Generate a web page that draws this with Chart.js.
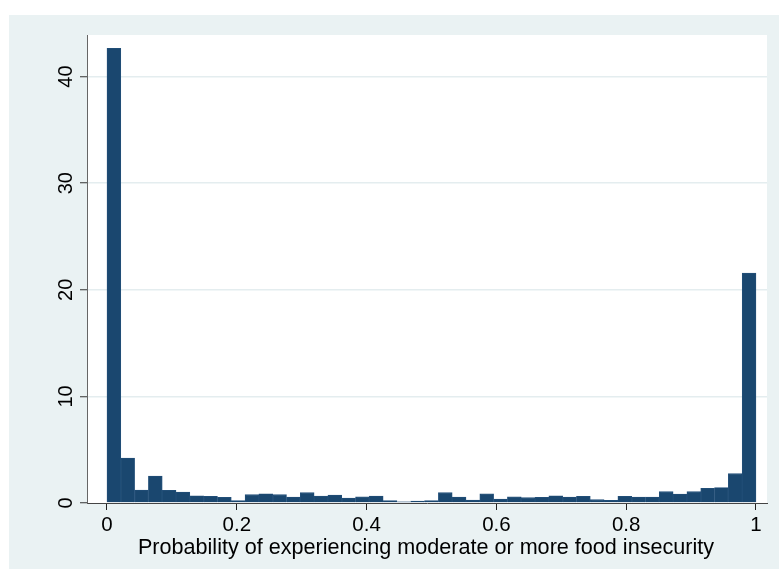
<!DOCTYPE html>
<html>
<head>
<meta charset="utf-8">
<script src="https://cdn.jsdelivr.net/npm/chart.js@4/dist/chart.umd.min.js"></script>
<style>
  html, body { margin: 0; padding: 0; background: #ffffff; }
  #wrap { width: 779px; height: 569px; }
</style>
</head>
<body>
<div id="wrap"><canvas id="hist" width="779" height="569"></canvas></div>
<script>
// Histogram: 47 equal-width bins over [0, 1], heights in percent
const binCount = 47;
const binLow = 0;
const binHigh = 1;
const percent = [
  42.66, 4.22, 1.22, 2.52, 1.20, 1.03, 0.68, 0.63, 0.53, 0.22,
  0.78, 0.86, 0.78, 0.55, 0.97, 0.64, 0.75, 0.47, 0.59, 0.66,
  0.22, 0.12, 0.19, 0.22, 0.97, 0.56, 0.28, 0.87, 0.37, 0.59,
  0.50, 0.53, 0.68, 0.56, 0.62, 0.31, 0.25, 0.62, 0.56, 0.56,
  1.06, 0.84, 1.06, 1.37, 1.44, 2.75, 21.56
];
const xTickValues = [0, 0.2, 0.4, 0.6, 0.8, 1];
const xTickLabels = ['0', '0.2', '0.4', '0.6', '0.8', '1'];
const yTickValues = [0, 10, 20, 30, 40];
const yTickLabels = ['0', '10', '20', '30', '40'];
const xTitle = 'Probability of experiencing moderate or more food insecurity';

const binWidth = (binHigh - binLow) / binCount;
const points = percent.map((v, i) => ({ x: binLow + (i + 0.5) * binWidth, y: v }));

const FONT = '"Liberation Sans", Arial, Helvetica, sans-serif';
const PANEL = '#EAF2F3';

// Outer light panel, white plot region, rotated y labels and the x title
const framePlugin = {
  id: 'frame',
  beforeDraw(chart) {
    const { ctx, chartArea: a, width, height } = chart;
    ctx.save();
    ctx.fillStyle = '#ffffff';
    ctx.fillRect(0, 0, width, height);
    ctx.fillStyle = PANEL;
    ctx.fillRect(9, 15, width - 9, height - 15);
    ctx.fillStyle = '#ffffff';
    ctx.fillRect(a.left, a.top, a.right - a.left, a.bottom - a.top);
    ctx.restore();
  },
  afterDraw(chart) {
    const { ctx, chartArea: a } = chart;
    const ys = chart.scales.y;
    ctx.save();
    ctx.fillStyle = '#000000';
    ctx.font = '20px ' + FONT;
    ctx.textAlign = 'center';
    ctx.textBaseline = 'middle';
    yTickValues.forEach((v, i) => {
      const py = ys.getPixelForValue(v);
      ctx.save();
      ctx.translate(66, py);
      ctx.rotate(-Math.PI / 2);
      ctx.fillText(yTickLabels[i], 0, 0);
      ctx.restore();
    });
    ctx.font = '21.6px ' + FONT;
    ctx.fillText(xTitle, (a.left + a.right) / 2 - 1, 548);
    ctx.restore();
  }
};

new Chart(document.getElementById('hist'), {
  type: 'bar',
  data: {
    datasets: [{
      data: points,
      backgroundColor: '#1A476F',
      borderColor: '#24507A',
      borderWidth: 0.8,
      barPercentage: 1,
      categoryPercentage: 1
    }]
  },
  options: {
    responsive: false,
    animation: false,
    devicePixelRatio: 1,
    layout: { padding: { left: 80, right: 12, top: 35, bottom: 0 } },
    plugins: {
      legend: { display: false },
      tooltip: { enabled: false }
    },
    scales: {
      x: {
        type: 'linear',
        offset: false,
        min: -0.0308,
        max: 1.017,
        afterBuildTicks(scale) { scale.ticks = xTickValues.map(v => ({ value: v })); },
        afterFit(scale) { scale.height = 66; },
        grid: {
          offset: false,
          drawOnChartArea: false,
          drawTicks: true,
          tickLength: 7,
          tickColor: '#222222',
          tickWidth: 1
        },
        border: { display: true, color: '#444444', width: 1 },
        ticks: {
          autoSkip: false,
          maxRotation: 0,
          minRotation: 0,
          padding: 3,
          color: '#000000',
          font: { family: FONT, size: 20.5 },
          callback(value) {
            const k = xTickValues.findIndex(t => Math.abs(t - value) < 1e-9);
            return k >= 0 ? xTickLabels[k] : '';
          }
        }
      },
      y: {
        type: 'linear',
        min: 0,
        max: 43.9,
        afterBuildTicks(scale) { scale.ticks = yTickValues.map(v => ({ value: v })); },
        afterFit(scale) { scale.width = 7; },
        grid: {
          drawOnChartArea: true,
          drawTicks: true,
          tickLength: 7,
          color: ctx => (ctx.tick && ctx.tick.value === 0) ? 'rgba(0,0,0,0)' : '#E4EDEF',
          lineWidth: 1.5,
          tickColor: '#333333',
          tickWidth: 1
        },
        border: { display: true, color: '#666666', width: 1 },
        ticks: { display: false }
      }
    }
  },
  plugins: [framePlugin]
});
</script>
</body>
</html>
